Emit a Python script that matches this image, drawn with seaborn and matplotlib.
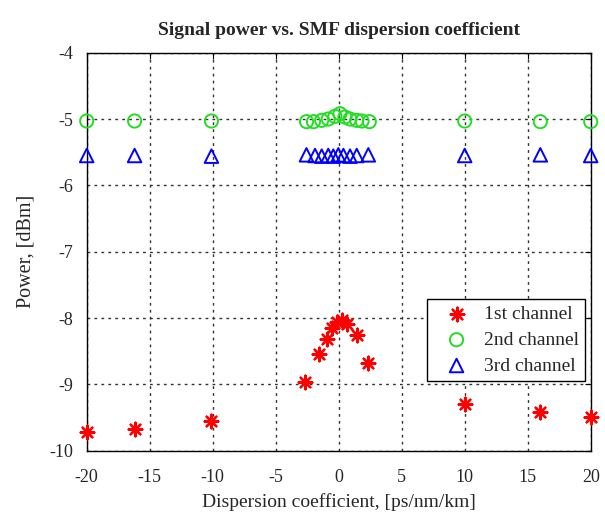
import matplotlib
matplotlib.use("Agg")
import matplotlib.pyplot as plt
import seaborn as sns
import pandas as pd

# ---- data ----
ch1_x = [-20, -16.2, -10.1, -2.7, -1.6, -0.95, -0.56, -0.16, 0.24, 0.63, 1.45, 2.35, 10, 16, 20]
ch1_y = [-9.72, -9.68, -9.55, -8.97, -8.54, -8.32, -8.15, -8.06, -8.03, -8.09, -8.25, -8.68, -9.29, -9.41, -9.49]

ch2_x = [-20, -16.2, -10.1, -2.55, -2.0, -1.35, -0.83, -0.3, 0.1, 0.5, 0.9, 1.43, 1.85, 2.43, 10, 16, 20]
ch2_y = [-5.03, -5.03, -5.03, -5.04, -5.04, -5.02, -5.0, -4.96, -4.92, -4.97, -5.0, -5.02, -5.03, -5.04, -5.03, -5.04, -5.04]

ch3_x = [-20, -16.2, -10.1, -2.56, -1.88, -1.35, -0.83, -0.43, -0.03, 0.37, 0.9, 1.43, 2.35, 10, 16, 20]
ch3_y = [-5.55, -5.55, -5.56, -5.54, -5.55, -5.56, -5.55, -5.56, -5.54, -5.55, -5.56, -5.55, -5.54, -5.55, -5.54, -5.55]

labels = ["1st channel", "2nd channel", "3rd channel"]
x_ticks = [-20, -15, -10, -5, 0, 5, 10, 15, 20]
y_ticks = [-10, -9, -8, -7, -6, -5, -4]

sns.set_style("white")
plt.rcParams["font.family"] = ["Liberation Serif", "DejaVu Serif"]
plt.rcParams["axes.unicode_minus"] = False

fig = plt.figure(figsize=(6.05, 5.15), dpi=100)
ax = fig.add_axes([0.1433, 0.1249, 0.9764 - 0.1433, 0.8977 - 0.1249])

df1 = pd.DataFrame({"x": ch1_x, "y": ch1_y})
df2 = pd.DataFrame({"x": ch2_x, "y": ch2_y})
df3 = pd.DataFrame({"x": ch3_x, "y": ch3_y})

sns.scatterplot(data=df1, x="x", y="y", ax=ax, marker=(8, 2, 0), s=95,
                color="#ff0000", linewidth=1.7, label=labels[0], zorder=3, clip_on=False)
sns.scatterplot(data=df2, x="x", y="y", ax=ax, marker="o", s=90,
                color="#22dd22", edgecolor="#22dd22", facecolor="none",
                linewidth=1.4, label=labels[1], zorder=3, clip_on=False)
sns.scatterplot(data=df3, x="x", y="y", ax=ax, marker="^", s=95,
                color="#0000ff", edgecolor="#0000ff", facecolor="none",
                linewidth=1.4, label=labels[2], zorder=3, clip_on=False)

ax.set_xlim(-20, 20)
ax.set_ylim(-10, -4)
ax.set_xticks(x_ticks)
ax.set_yticks(y_ticks)
ax.set_xticklabels([str(v) for v in x_ticks])
ax.set_yticklabels([str(v) for v in y_ticks])
ax.tick_params(direction="in", length=4, width=0.8, labelsize=13, color="black",
               top=True, right=True, pad=10)
ax.tick_params(axis="x", pad=13)
ax.grid(True, linestyle=(0, (2, 3)), color="#333333", linewidth=1.0)
ax.set_axisbelow(True)
for sp in ax.spines.values():
    sp.set_visible(True)
    sp.set_color("black")
    sp.set_linewidth(1.0)

ax.set_xlabel("Dispersion coefficient, [ps/nm/km]", fontsize=14, labelpad=5)
ax.set_ylabel("Power, [dBm]", fontsize=14.5, labelpad=10)
ax.set_title("Signal power vs. SMF dispersion coefficient", fontsize=14,
             fontweight="bold", pad=13)

leg = ax.legend(loc="lower right", bbox_to_anchor=(0.989, 0.175), fontsize=14,
                frameon=True, fancybox=False, edgecolor="black", framealpha=1,
                borderpad=0.33, handletextpad=0.2, labelspacing=0.42, handlelength=2.4,
                borderaxespad=0)
leg.get_frame().set_linewidth(1.0)

fig.savefig("out.png", dpi=100)
